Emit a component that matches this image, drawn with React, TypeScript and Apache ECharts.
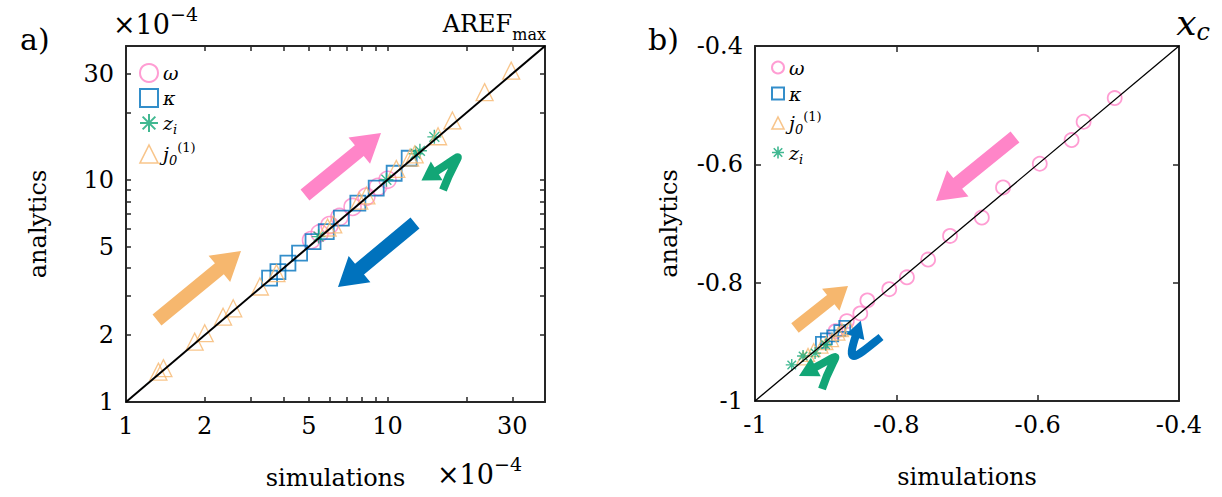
import React, { useEffect, useRef } from 'react';
import * as echarts from 'echarts';

const PINK = '#FF85C8';
const BLUE = '#0072BD';
const ORANGE = '#F6B76E';
const GREEN = '#12A676';
const FONT = 'DejaVu Serif';

// Panel a) AREF_max, units of 1e-4 : [simulations, analytics]
const aOmega = [[5.1, 5.35], [5.5, 5.75], [6.0, 6.25], [6.55, 6.8], [7.35, 7.55], [8.3, 8.4], [9.2, 9.3], [10.0, 10.0]];
const aKappa = [[3.54, 3.61], [3.81, 3.86], [4.16, 4.22], [4.61, 4.68], [5.19, 5.27], [5.83, 5.85], [6.66, 6.72], [7.7, 7.85], [9.05, 9.18], [10.6, 10.7], [12.1, 12.5]];
const aZi = [[5.45, 5.55], [9.9, 10.0], [12.8, 13.1], [13.3, 13.5], [15.1, 15.6]];
const aJ0 = [[1.33, 1.37], [1.39, 1.42], [1.83, 1.87], [2.0, 2.04], [2.35, 2.42], [2.57, 2.64], [3.25, 3.31], [3.76, 3.8], [5.9, 6.1], [6.2, 6.3], [7.8, 8.05], [8.3, 8.5], [10.8, 11.2], [12.2, 12.6], [12.7, 13.0], [15.6, 15.7], [17.7, 18.5], [23.5, 24.8], [29.7, 31.0]];
const aDiag = [[1, 1], [40, 40]];
const aLabelTicks = [1, 2, 5, 10, 30];
const aMinorTicks = [1, 2, 3, 4, 5, 6, 7, 8, 9, 10, 20, 30];

// Panel b) x_c : [simulations, analytics]
const bOmega = [[-0.491, -0.488], [-0.535, -0.528], [-0.552, -0.559], [-0.597, -0.599], [-0.649, -0.639], [-0.679, -0.69], [-0.724, -0.721], [-0.755, -0.761], [-0.785, -0.791], [-0.81, -0.811], [-0.841, -0.83], [-0.851, -0.852], [-0.87, -0.865], [-0.886, -0.882]];
const bKappa = [[-0.873, -0.874], [-0.88, -0.881], [-0.89, -0.89], [-0.899, -0.895], [-0.906, -0.901]];
const bJ0 = [[-0.866, -0.877], [-0.877, -0.88], [-0.882, -0.886], [-0.891, -0.897], [-0.899, -0.902], [-0.906, -0.908], [-0.917, -0.914], [-0.925, -0.922], [-0.932, -0.928]];
const bZi = [[-0.948, -0.939], [-0.932, -0.924], [-0.915, -0.919], [-0.9, -0.905]];
const bDiag = [[-1, -1], [-0.4, -0.4]];

const ASTER = 'path://M0 -10 L0 10 M-10 0 L10 0 M-7.07 -7.07 L7.07 7.07 M-7.07 7.07 L7.07 -7.07';

const NAMES: Record<string, string> = {
  'ω': '{it|ω}',
  'κ': '{it|κ}',
  'z_i': '{it|z}{sub|i}',
  'j_0^(1)': '{it|j}{sub|0}{sup|(1)}',
};

function arrow(x1: number, y1: number, x2: number, y2: number, sw: number, hw: number, hl: number) {
  const dx = x2 - x1, dy = y2 - y1, L = Math.hypot(dx, dy);
  const ux = dx / L, uy = dy / L, nx = -uy, ny = ux;
  const bx = x2 - ux * hl, by = y2 - uy * hl;
  return [
    [x1 + nx * sw / 2, y1 + ny * sw / 2],
    [bx + nx * sw / 2, by + ny * sw / 2],
    [bx + nx * hw / 2, by + ny * hw / 2],
    [x2, y2],
    [bx - nx * hw / 2, by - ny * hw / 2],
    [bx - nx * sw / 2, by - ny * sw / 2],
    [x1 - nx * sw / 2, y1 - ny * sw / 2],
  ];
}

function hook(s: number[], c1: number[], c2: number[], e: number[], color: string, lw: number, hl: number, hw: number) {
  const dx = e[0] - c2[0], dy = e[1] - c2[1], L = Math.hypot(dx, dy);
  const ux = dx / L, uy = dy / L, nx = -uy, ny = ux;
  const tip = [e[0] + ux * hl, e[1] + uy * hl];
  const back = [e[0] - ux * 2, e[1] - uy * 2];
  return [
    {
      type: 'bezierCurve', z: 10,
      shape: { x1: s[0], y1: s[1], cpx1: c1[0], cpy1: c1[1], cpx2: c2[0], cpy2: c2[1], x2: e[0], y2: e[1] },
      style: { stroke: color, lineWidth: lw, fill: null, lineCap: 'butt' },
    },
    {
      type: 'polygon', z: 10,
      shape: { points: [[back[0] + nx * hw / 2, back[1] + ny * hw / 2], tip, [back[0] - nx * hw / 2, back[1] - ny * hw / 2]] },
      style: { fill: color },
    },
  ];
}

const axisLine = { show: true, onZero: false, lineStyle: { color: '#262626', width: 2 } };
const labelStyle = { fontFamily: FONT, fontSize: 24, color: '#000' };

function logAxis(gridIndex: number, position: string, show: boolean, name?: string, nameGap?: number) {
  return {
    type: 'log', logBase: 10, gridIndex, position, min: 1, max: 40,
    axisLine,
    axisTick: { show: true, inside: true, length: 5, customValues: aMinorTicks, lineStyle: { color: '#262626', width: 1.5 } },
    axisLabel: { show, customValues: aLabelTicks, margin: 12, ...labelStyle },
    splitLine: { show: false }, minorTick: { show: false },
    name, nameLocation: 'middle', nameGap,
    nameTextStyle: { fontFamily: FONT, fontSize: 24, color: '#000' },
  };
}

function linAxis(gridIndex: number, position: string, show: boolean, name?: string, nameGap?: number) {
  return {
    type: 'value', gridIndex, position, min: -1, max: -0.4, interval: 0.2,
    axisLine,
    axisTick: { show: true, inside: true, length: 6, lineStyle: { color: '#262626', width: 1.5 } },
    axisLabel: { show, margin: 12, formatter: (v: number) => String(Math.round(v * 10) / 10), ...labelStyle },
    splitLine: { show: false },
    name, nameLocation: 'middle', nameGap,
    nameTextStyle: { fontFamily: FONT, fontSize: 24, color: '#000' },
  };
}

function scatter(name: string, data: number[][], xi: number, yi: number, symbol: string, size: number, color: string, bw: number) {
  return {
    type: 'scatter', name, data, xAxisIndex: xi, yAxisIndex: yi, symbol, symbolSize: size,
    itemStyle: { color: 'rgba(0,0,0,0)', borderColor: color, borderWidth: bw },
    emphasis: { disabled: true }, z: 2,
  };
}

function legendData(order: string[], big: boolean) {
  const styles: Record<string, any> = {
    'ω': { icon: 'circle', itemStyle: { color: 'rgba(0,0,0,0)', borderColor: PINK, borderWidth: 2 } },
    'κ': { icon: 'rect', itemStyle: { color: 'rgba(0,0,0,0)', borderColor: BLUE, borderWidth: 2 } },
    'z_i': { icon: ASTER, itemStyle: { color: 'rgba(0,0,0,0)', borderColor: GREEN, borderWidth: big ? 2 : 1.6 } },
    'j_0^(1)': { icon: 'triangle', itemStyle: { color: 'rgba(0,0,0,0)', borderColor: ORANGE, borderWidth: 1.6 } },
  };
  return order.map((n) => ({ name: n, ...styles[n] }));
}

const richText = {
  it: { fontFamily: FONT, fontStyle: 'italic', fontSize: 19, color: '#000', lineHeight: 26 },
  sub: { fontFamily: FONT, fontStyle: 'italic', fontSize: 13, color: '#000', lineHeight: 26, verticalAlign: 'bottom' },
  sup: { fontFamily: FONT, fontSize: 13, color: '#000', lineHeight: 26, verticalAlign: 'top' },
};

const tenMinus4 = {
  text: '{a|×10}{b|−4}',
  rich: {
    a: { fontFamily: FONT, fontSize: 27, fill: '#000', lineHeight: 34, verticalAlign: 'bottom' },
    b: { fontFamily: FONT, fontSize: 19, fill: '#000', lineHeight: 34, verticalAlign: 'top' },
  },
};

export default function App() {
  const ref = useRef<HTMLDivElement>(null);
  useEffect(() => {
    if (!ref.current) return;
    const chart = echarts.init(ref.current, null, { renderer: 'svg' });
    const graphic: any[] = [
      { type: 'text', left: 20, top: 24, style: { text: 'a)', fontFamily: FONT, fontSize: 30, fill: '#000' } },
      { type: 'text', left: 648, top: 24, style: { text: 'b)', fontFamily: FONT, fontSize: 30, fill: '#000' } },
      { type: 'text', left: 113, top: 4, style: { ...tenMinus4 } },
      {
        type: 'text', right: 1222 - 546, top: 12,
        style: { text: '{a|AREF}{b|max}', rich: { a: { fontFamily: FONT, fontSize: 24, fill: '#000', lineHeight: 30, verticalAlign: 'top' }, b: { fontFamily: FONT, fontSize: 16, fill: '#000', lineHeight: 30, verticalAlign: 'bottom' } } },
      },
      {
        type: 'text', right: 12, top: 4,
        style: { text: '{a|x}{b|c}', rich: { a: { fontFamily: FONT, fontStyle: 'italic', fontSize: 36, fill: '#000', lineHeight: 40, verticalAlign: 'top' }, b: { fontFamily: FONT, fontStyle: 'italic', fontSize: 24, fill: '#000', lineHeight: 40, verticalAlign: 'bottom' } } },
      },
      { type: 'text', left: 437, top: 454, style: { ...tenMinus4 } },
      { type: 'polygon', shape: { points: arrow(157, 320, 241, 251, 14, 34, 28) }, style: { fill: ORANGE }, z: 10 },
      { type: 'polygon', shape: { points: arrow(305, 195, 381, 133, 14, 34, 28) }, style: { fill: PINK }, z: 10 },
      { type: 'polygon', shape: { points: arrow(415, 223, 338, 287, 14, 34, 28) }, style: { fill: BLUE }, z: 10 },
      { type: 'polygon', shape: { points: arrow(1015, 137, 936, 201, 14, 34, 28) }, style: { fill: PINK }, z: 10 },
      { type: 'polygon', shape: { points: arrow(795, 328, 848, 286, 12, 28, 22) }, style: { fill: ORANGE }, z: 10 },
      ...hook([443, 190], [458, 150], [470, 150], [435, 172], GREEN, 8, 16, 22),
      ...hook([881, 337], [856, 357], [845, 368], [856, 335], BLUE, 8, 15, 19),
      ...hook([822, 389], [834, 352], [848, 350], [814, 368], GREEN, 8, 17, 21),
    ];

    const option: any = {
      animation: false,
      backgroundColor: '#fff',
      grid: [
        { left: 126, top: 46, width: 419, height: 356, outerBoundsMode: 'none', containLabel: false },
        { left: 755, top: 46, width: 424, height: 355, outerBoundsMode: 'none', containLabel: false },
      ],
      xAxis: [
        logAxis(0, 'bottom', true, 'simulations', 64),
        logAxis(0, 'top', false),
        linAxis(1, 'bottom', true, 'simulations', 64),
        linAxis(1, 'top', false),
      ],
      yAxis: [
        logAxis(0, 'left', true, 'analytics', 76),
        logAxis(0, 'right', false),
        linAxis(1, 'left', true, 'analytics', 74),
        linAxis(1, 'right', false),
      ],
      legend: [
        {
          orient: 'vertical', left: 134, top: 58, itemWidth: 18, itemHeight: 18, itemGap: 5,
          selectedMode: false,
          data: legendData(['ω', 'κ', 'z_i', 'j_0^(1)'], true),
          formatter: (n: string) => NAMES[n],
          textStyle: { rich: richText },
        },
        {
          orient: 'vertical', left: 766, top: 53, itemWidth: 12, itemHeight: 12, itemGap: 7,
          selectedMode: false,
          data: legendData(['ω', 'κ', 'j_0^(1)', 'z_i'], false),
          formatter: (n: string) => NAMES[n],
          textStyle: { rich: richText },
        },
      ],
      graphic,
      series: [
        scatter('ω', aOmega, 0, 0, 'circle', 17, PINK, 1.6),
        scatter('κ', aKappa, 0, 0, 'rect', 15, BLUE, 1.8),
        scatter('z_i', aZi, 0, 0, ASTER, 14, GREEN, 1.4),
        scatter('j_0^(1)', aJ0, 0, 0, 'triangle', 17, ORANGE, 1.3),
        { type: 'line', data: aDiag, xAxisIndex: 0, yAxisIndex: 0, symbol: 'none', lineStyle: { color: '#000', width: 2 }, z: 3, silent: true },
        scatter('ω', bOmega, 2, 2, 'circle', 14, PINK, 1.8),
        scatter('κ', bKappa, 2, 2, 'rect', 11, BLUE, 1.8),
        scatter('j_0^(1)', bJ0, 2, 2, 'triangle', 13, ORANGE, 1.3),
        scatter('z_i', bZi, 2, 2, ASTER, 12, GREEN, 1.4),
        { type: 'line', data: bDiag, xAxisIndex: 2, yAxisIndex: 2, symbol: 'none', lineStyle: { color: '#000', width: 1.3 }, z: 3, silent: true },
      ],
    };
    chart.setOption(option);
    return () => chart.dispose();
  }, []);
  return <div ref={ref} style={{ position: 'absolute', left: 0, top: 0, width: 1222, height: 497 }} />;
}
